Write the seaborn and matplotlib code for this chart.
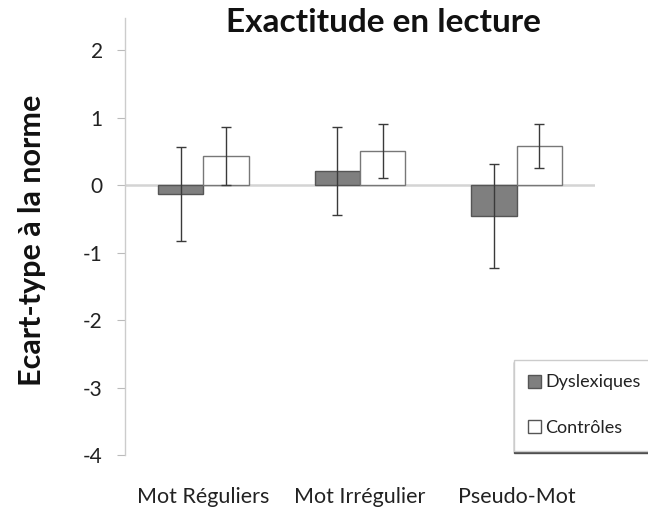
import matplotlib
matplotlib.use("Agg")
import matplotlib.pyplot as plt
import seaborn as sns
import pandas as pd
import numpy as np
from matplotlib.patches import Patch

categories = ["Mot Réguliers", "Mot Irrégulier", "Pseudo-Mot"]
groups = ["Dyslexiques", "Contrôles"]
dys_mean = [-0.13, 0.21, -0.45]
dys_err = [0.70, 0.65, 0.77]
con_mean = [0.43, 0.51, 0.58]
con_err = [0.43, 0.40, 0.33]
yticks = [2, 1, 0, -1, -2, -3, -4]

df = pd.DataFrame({
    "cat": categories * 2,
    "grp": [groups[0]] * 3 + [groups[1]] * 3,
    "val": dys_mean + con_mean,
    "err": dys_err + con_err,
})

sns.set_theme(style="white")
plt.rcParams["font.family"] = ["Lato", "DejaVu Sans"]

fig = plt.figure(figsize=(6.48, 5.09), dpi=100)
ax = fig.add_axes([125/648, 54/509, 470/648, 437/509])

sns.barplot(data=df, x="cat", y="val", hue="grp", order=categories, hue_order=groups,
            palette={"Dyslexiques": "#7f7f7f", "Contrôles": "#ffffff"},
            width=0.58, errorbar=None, ax=ax, legend=False, zorder=3)

edge = {"Dyslexiques": "#555555", "Contrôles": "#777777"}
for container, g in zip(ax.containers, groups):
    for p in container:
        p.set_edgecolor(edge[g])
        p.set_linewidth(1.0)
    errs = df[df.grp == g]["err"].values
    vals = df[df.grp == g]["val"].values
    xs = [p.get_x() + p.get_width() / 2 for p in container]
    ax.errorbar(xs, vals, yerr=errs, fmt="none", ecolor="#3a3a3a", elinewidth=1.0,
                capsize=3.5, capthick=1.0, zorder=4)

ax.axhline(0, color="#d4d4d4", lw=1.8, zorder=2)
ax.set_xlim(-0.5, 2.5)
ax.set_ylim(-4, 2.48)
ax.set_yticks(yticks)
ax.set_yticklabels([str(t) for t in yticks], fontsize=15, color="#222222")
ax.tick_params(axis="y", which="major", left=True, length=6, width=0.8, color="#bbbbbb", pad=10)
ax.tick_params(axis="x", bottom=False, labelsize=15.5, labelcolor="#222222", pad=17)
ax.set_xlabel("")
ax.set_ylabel("")
for s in ["top", "right", "bottom"]:
    ax.spines[s].set_visible(False)
ax.spines["left"].set_color("#cccccc")
ax.spines["left"].set_linewidth(1.0)

fig.text(383/648, 1 - 32/509, "Exactitude en lecture", ha="center", va="baseline",
         fontsize=24, fontweight="bold", color="#111111")
fig.text(32/648, 1 - 240/509, "Ecart-type à la norme", ha="center", va="center",
         rotation=90, fontsize=22, fontweight="bold", color="#111111")

handles = [Patch(facecolor="#7f7f7f", edgecolor="#555555"),
           Patch(facecolor="#ffffff", edgecolor="#555555")]
leg = fig.legend(handles, groups, loc="upper left", bbox_to_anchor=(514/648, 1 - 360/509),
                 frameon=True, fontsize=13, handlelength=0.72, handleheight=0.72,
                 handletextpad=0.2, labelspacing=1.65, borderpad=0.8, borderaxespad=0,
                 fancybox=False,
                 shadow={"ox": 0, "oy": -1.5, "color": "#444444", "alpha": 0.9})
leg.get_frame().set_edgecolor("#cccccc")
leg.get_frame().set_linewidth(1.0)
for t in leg.get_texts():
    t.set_color("#222222")

fig.savefig("out.png", dpi=100)
